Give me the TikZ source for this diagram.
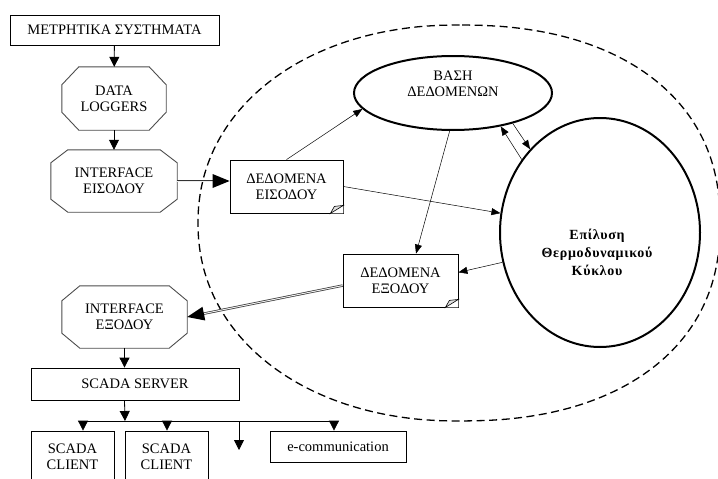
\documentclass[tikz,border=0pt]{standalone}
\usepackage{fontspec}
\setmainfont{Liberation Serif}
\usetikzlibrary{arrows.meta,decorations.markings,shapes.geometric}

\newcommand{\octa}[3]{\draw[gray!60!black, line width=0.9pt]
  ([xshift=#2pt]#1.north west) -- ([xshift=-#2pt]#1.north east) -- ([yshift=-#3pt]#1.north east)
  -- ([yshift=#3pt]#1.south east) -- ([xshift=-#2pt]#1.south east) -- ([xshift=#2pt]#1.south west)
  -- ([yshift=#3pt]#1.south west) -- ([yshift=-#3pt]#1.north west) -- cycle;}
\newcommand{\dogear}[1]{\fill[white] (#1.south east) -- ([xshift=-13pt]#1.south east) -- ([yshift=8pt]#1.south east) -- cycle;
  \draw[line width=0.6pt, fill=gray!25] ([xshift=-13pt]#1.south east) -- ([yshift=8pt]#1.south east) -- ([xshift=-9pt,yshift=7pt]#1.south east) -- cycle;}

\begin{document}
\begin{tikzpicture}[x=1pt, y=-1pt,
  every node/.style = {font = \fontsize{14.5}{16}\selectfont, align = center, inner sep = 0pt},
  box/.style = {draw, line width = 0.8pt, rectangle},
  octo/.style = {rectangle},
  base/.style = {draw, ellipse, line width = 2pt},
  feed/.style = {draw, line width = 0.8pt, -{Triangle[length = 10pt, width = 10pt]}},
  flow/.style = {draw, line width = 0.5pt, -{Triangle[length = 9pt, width = 7pt]}},
  dblarrow/.style = {draw = gray!40!black, double = gray!15, double distance = 1pt, line width = 0.7pt, shorten >= 8pt,
    postaction = {decorate, decoration = {markings, mark = at position 1 with {\fill[black] (0,0) -- (-17pt,7pt) -- (-17pt,-7pt) -- cycle;}}}}]
\useasboundingbox (0,0) rectangle (718,479);
\draw[line width = 1.3pt, dash pattern = on 8pt off 4.5pt]
  plot[domain = -90.5:89.5, samples = 45, variable = \t, smooth]
    ({458 + 262*pow(abs(cos(\t)),0.88)}, {223 + 198*sin(\t)*pow(abs(sin(\t)),-0.12)})
  -- plot[domain = 89.5:270.5, samples = 45, variable = \t, smooth]
    ({458 - 260*pow(abs(cos(\t)),0.95)}, {223 + 198*sin(\t)*pow(abs(sin(\t)),-0.05)}) -- cycle;

\node[box, minimum width = 209pt, minimum height = 30pt] (sys) at (114.5,30) {ΜΕΤΡΗΤΙΚΑ ΣΥΣΤΗΜΑΤΑ};
\node[octo, minimum width = 104pt, minimum height = 63pt] (dl) at (114,98.5) {DATA\\LOGGERS};
\node[octo, minimum width = 126pt, minimum height = 62pt] (ifin) at (114,181) {INTERFACE\\ΕΙΣΟΔΟΥ};
\node[box, minimum width = 113pt, minimum height = 53pt] (din) at (286.5,186.5) {ΔΕΔΟΜΕΝΑ\\ΕΙΣΟΔΟΥ};
\node[base, minimum width = 198pt, minimum height = 74pt] (db) at (453,93) {ΒΑΣΗ\\ΔΕΔΟΜΕΝΩΝ\\[2pt]};
\node[base, minimum width = 200pt, minimum height = 229pt,
  label = {[yshift = -20pt, xshift = -3pt, font = \fontsize{14}{18}\selectfont\bfseries\addfontfeature{LetterSpace=5}]center:Επίλυση\\Θερμοδυναμικού\\Κύκλου}] (solve) at (600,232.5) {};
\node[box, minimum width = 115pt, minimum height = 53pt] (dout) at (400.5,280.5) {ΔΕΔΟΜΕΝΑ\\ΕΞΟΔΟΥ};
\node[octo, minimum width = 125pt, minimum height = 62pt] (ifout) at (124.5,317) {INTERFACE\\ΕΞΟΔΟΥ};
\node[box, minimum width = 208pt, minimum height = 32pt] (srv) at (135,384) {SCADA SERVER};
\node[box, minimum width = 83pt, minimum height = 52pt] (c1) at (72.5,457) {SCADA\\CLIENT};
\node[box, minimum width = 83pt, minimum height = 52pt] (c2) at (166.5,457) {SCADA\\CLIENT};
\node[box, minimum width = 136pt, minimum height = 31pt] (ecom) at (338,446.5) {e-communication};
\octa{dl}{17}{18}
\octa{ifin}{17}{13}
\octa{ifout}{18}{15}
\dogear{din}
\dogear{dout}

\coordinate (br) at (125,421);
\coordinate (b1) at (83,421);
\coordinate (b2) at (167,421);
\coordinate (b3) at (239,421);
\coordinate (b4) at (334,421);
\coordinate (end) at (239,450);

\path[feed] (sys) -- (dl);
\path[feed] (dl) -- (ifin);
\path[dblarrow] (ifin.east) -- (ifin.east -| din.west);
\path[flow] (din.north) -- (db.190);
\path[flow] (din.east) -- (solve.169);
\path[flow] (db.265) -- (dout.60);
\path[flow] (db.-27) -- (solve.130);
\path[flow] (solve.137) -- (db.-35);
\path[flow] (solve.197) -- (dout.8);
\path[dblarrow] (dout.185) -- (ifout.east);
\path[feed] (ifout.south) -- (ifout.south |- srv.north);
\path[feed] (ifout.south |- srv.south) -- (br);
\draw[line width = 0.8pt] (b1) -- (b4);
\path[feed] (b1) -- (b1 |- c1.north);
\path[feed] (b2) -- (b2 |- c2.north);
\path[feed] (b3) -- (end);
\path[feed] (b4) -- (b4 |- ecom.north);
\end{tikzpicture}
\end{document}
